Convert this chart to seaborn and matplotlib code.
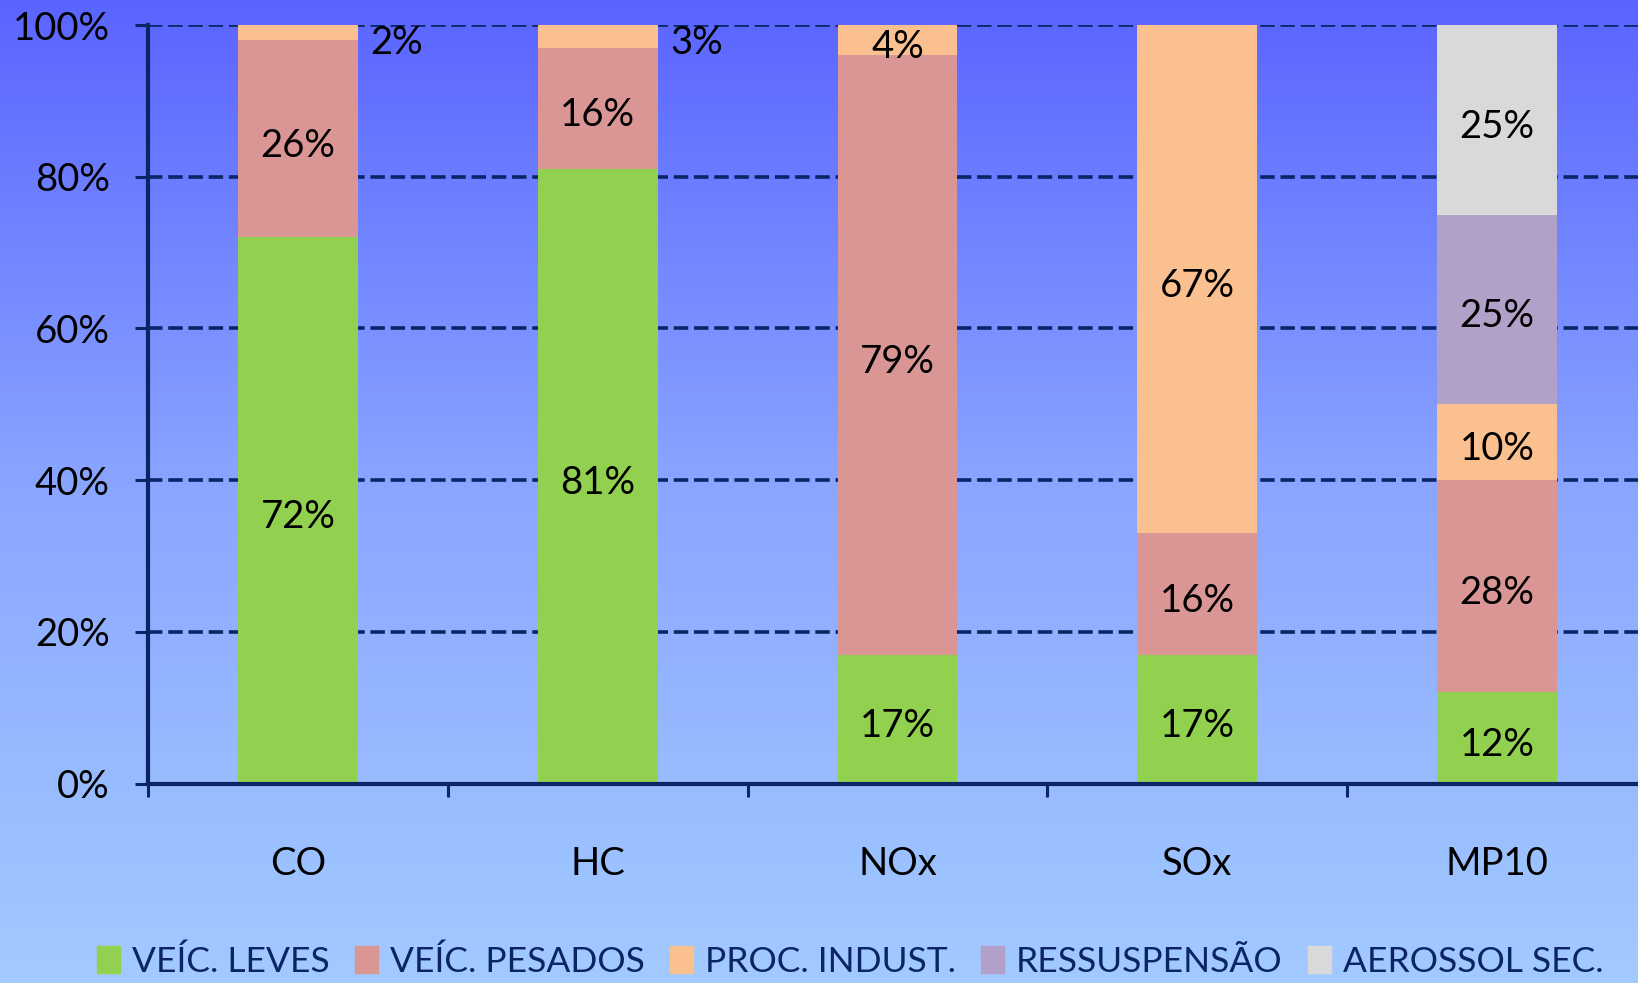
import numpy as np
import pandas as pd
import matplotlib
matplotlib.use('Agg')
import matplotlib.pyplot as plt
from matplotlib.colors import LinearSegmentedColormap
import seaborn as sns

# data (percent share of each source)
poluentes = ['CO', 'HC', 'NOx', 'SOx', 'MP10']
fontes = ['VEÍC. LEVES', 'VEÍC. PESADOS', 'PROC. INDUST.', 'RESSUSPENSÃO', 'AEROSSOL SEC.']
veic_leves = [72, 81, 17, 17, 12]
veic_pesados = [26, 16, 79, 16, 28]
proc_indust = [2, 3, 4, 67, 10]
ressuspensao = [0, 0, 0, 0, 25]
aerossol_sec = [0, 0, 0, 0, 25]
cores = ['#92d050', '#da9694', '#fac090', '#b1a0c7', '#d9d9d9']

series = [veic_leves, veic_pesados, proc_indust, ressuspensao, aerossol_sec]
df = pd.DataFrame({f: v for f, v in zip(fontes, series)}, index=poluentes)
cum = df.cumsum(axis=1)

navy = '#0a2466'
sns.set_theme(style='white')
plt.rcParams['font.family'] = ['Lato', 'DejaVu Sans']

fig = plt.figure(figsize=(16.38, 9.83), dpi=100)

# gradient background
bg = fig.add_axes([0, 0, 1, 1], zorder=-10)
cmap = LinearSegmentedColormap.from_list('bg', ['#5a64ff', '#8aa6ff', '#a2caff'])
bg.imshow(np.linspace(0, 1, 256).reshape(-1, 1), aspect='auto', cmap=cmap,
          extent=[0, 1, 0, 1])
bg.axis('off')

ax = fig.add_axes([148 / 1638, 1 - 783.5 / 983, 1499 / 1638, (783.5 - 25) / 983])
ax.patch.set_alpha(0)

# stacked bars: draw cumulative totals from top down
for i in range(len(fontes) - 1, -1, -1):
    sns.barplot(x=poluentes, y=cum[fontes[i]].values, color=cores[i], width=0.4,
                saturation=1, ax=ax, zorder=3, edgecolor='none', linewidth=0)

# data labels
fs = 27.5
for j, p in enumerate(poluentes):
    base = 0
    for i, f in enumerate(fontes):
        v = df.loc[p, f]
        if v > 0:
            mid = base + v / 2
            if v < 4 and f == 'PROC. INDUST.':
                ax.annotate(f'{v}%', (j + 0.2, 97.8), xytext=(9, -1),
                            textcoords='offset points', ha='left', va='center',
                            fontsize=fs, color='black', zorder=5)
            else:
                ax.annotate(f'{v}%', (j, mid), xytext=(0, -5),
                            textcoords='offset points', ha='center', va='center',
                            fontsize=fs, color='black', zorder=5)
        base += v

ax.set_xlim(-0.5, 4.5)
ax.set_ylim(0, 100)
ax.set_yticks([0, 20, 40, 60, 80, 100])
ax.set_yticklabels([f'{t}%' for t in [0, 20, 40, 60, 80, 100]], fontsize=fs, color='black')
ax.set_xticks([-0.5, 0.5, 1.5, 2.5, 3.5, 4.5])
ax.set_xticklabels([])
ax.set_xticks(range(len(poluentes)), minor=True)
ax.set_xticklabels(poluentes, minor=True, fontsize=fs, color='black')
ax.tick_params(axis='x', which='minor', length=0, pad=45)
ax.tick_params(axis='x', which='major', direction='out', length=9, width=2.2,
               color=navy, bottom=True)
ax.tick_params(axis='y', direction='out', length=9.5, width=2.2, color=navy,
               left=True, pad=18)
ax.set_xlabel('')
ax.set_ylabel('')

ax.yaxis.grid(True, color=navy, linestyle=(0, (4, 1.6)), linewidth=2.6, zorder=1)
ax.set_axisbelow(True)
for s in ['top', 'right']:
    ax.spines[s].set_visible(False)
for s in ['left', 'bottom']:
    ax.spines[s].set_color(navy)
    ax.spines[s].set_linewidth(3.0)
    ax.spines[s].set_zorder(4)

handles = [plt.Rectangle((0, 0), 1, 1, color=c) for c in cores]
fig.legend(handles, fontes, loc='center', bbox_to_anchor=(0.519, 0.022), ncol=5,
           frameon=False, fontsize=25.5, labelcolor=navy, handlelength=0.65,
           handleheight=0.8, handletextpad=0.35, columnspacing=0.7, borderpad=0)

fig.savefig('out.png', dpi=100)
